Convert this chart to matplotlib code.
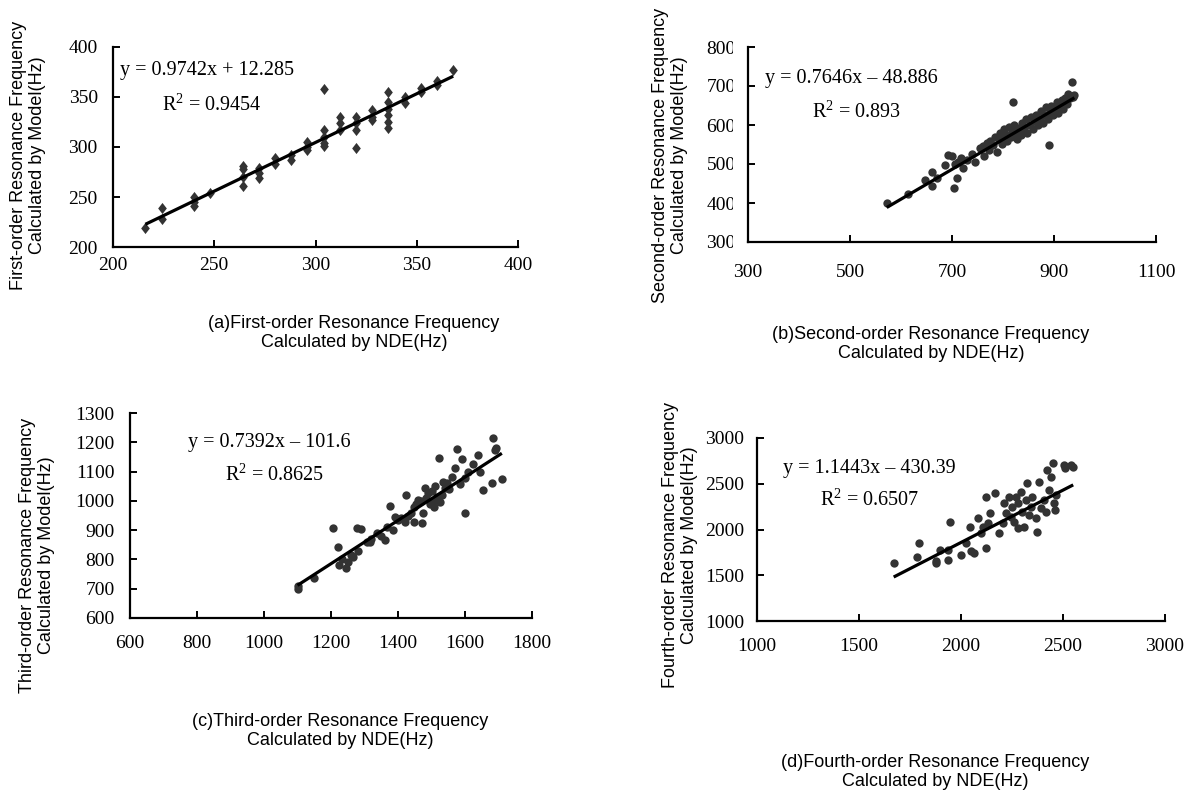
import matplotlib
matplotlib.use('Agg')
import matplotlib.pyplot as plt
from matplotlib.transforms import Bbox, TransformedBbox

plt.rcParams['font.family'] = ['Liberation Serif', 'DejaVu Serif']
plt.rcParams['mathtext.fontset'] = 'custom'
plt.rcParams['mathtext.rm'] = 'Liberation Serif'

# ---------- data ----------
# (a) first order
a_x = [216, 224, 224, 240, 240, 240, 248, 264, 264, 264, 264, 272, 272, 272, 280, 280, 288, 288,
       296, 296, 296, 304, 304, 304, 304, 304, 312, 312, 312, 320, 320, 320, 320, 328, 328, 328,
       336, 336, 336, 336, 336, 336, 344, 344, 352, 352, 360, 360, 368]
a_y = [219, 239, 228, 250, 245, 241, 254, 281, 278, 270, 261, 279, 274, 269, 289, 283, 292, 287,
       305, 300, 297, 358, 317, 310, 304, 301, 330, 324, 317, 330, 324, 317, 299, 337, 330, 327,
       355, 345, 338, 332, 325, 319, 350, 344, 359, 355, 362, 366, 377]
a_fit = (0.9742, 12.285)

# (b) second order
b_x = [572, 614, 647, 660, 660, 670, 686, 693, 703, 709, 712, 700, 705, 718, 722, 730, 740, 745,
       755, 760, 762, 768, 772, 775, 780, 785, 788, 792, 795, 798, 802, 805, 808, 812, 815, 818,
       820, 822, 825, 828, 832, 835, 838, 842, 845, 848, 852, 855, 858, 862, 865, 868, 872, 875,
       878, 882, 885, 888, 890, 892, 895, 898, 902, 905, 908, 912, 915, 918, 922, 925, 928, 932,
       935, 938, 940]
b_y = [401, 423, 459, 480, 444, 463, 497, 523, 438, 463, 505, 520, 500, 515, 490, 510, 525, 505,
       540, 545, 520, 555, 535, 560, 548, 570, 530, 565, 580, 552, 590, 575, 560, 595, 570, 585,
       660, 600, 580, 565, 592, 575, 605, 590, 615, 580, 600, 620, 590, 610, 625, 600, 615, 635,
       605, 625, 645, 615, 550, 632, 650, 625, 640, 660, 630, 648, 665, 640, 670, 655, 680, 668,
       710, 672, 678]
b_fit = (0.7646, -48.886)

# (c) third order
c_x = [1100, 1102, 1150, 1207, 1220, 1224, 1232, 1245, 1250, 1260, 1267, 1278, 1280, 1291, 1306,
       1316, 1320, 1336, 1350, 1361, 1366, 1376, 1386, 1391, 1400, 1410, 1421, 1424, 1430, 1440,
       1448, 1448, 1455, 1461, 1470, 1473, 1476, 1481, 1485, 1491, 1496, 1500, 1505, 1506, 1510,
       1516, 1521, 1525, 1530, 1534, 1540, 1545, 1553, 1560, 1570, 1575, 1585, 1592, 1600, 1600,
       1610, 1625, 1640, 1645, 1653, 1680, 1685, 1690, 1692, 1710]
c_y = [700, 708, 737, 908, 843, 782, 800, 770, 790, 815, 809, 908, 830, 903, 861,
       861, 870, 889, 880, 866, 912, 982, 900, 946, 935, 940, 929, 1020, 950, 960,
       929, 980, 990, 1003, 1000, 923, 957, 1043, 1010, 1026, 990, 1035, 1000, 980, 1050,
       1014, 1148, 997, 1020, 1066, 1043, 1060, 1039, 1082, 1111, 1176, 1057, 1142, 1077, 960,
       1097, 1125, 1156, 1097, 1037, 1062, 1213, 1172, 1180, 1074]
c_fit = (0.7392, -101.6)

# (d) fourth order
d_x = [1670, 1783, 1795, 1875, 1879, 1897, 1934, 1934, 1948, 2002, 2026, 2042, 2050, 2066, 2083,
       2099, 2107, 2123, 2123, 2131, 2144, 2168, 2188, 2205, 2212, 2220, 2236, 2244, 2252, 2260,
       2268, 2277, 2280, 2293, 2301, 2309, 2317, 2325, 2333, 2341, 2350, 2366, 2374, 2382, 2390,
       2406, 2415, 2422, 2431, 2443, 2451, 2455, 2463, 2468, 2503, 2512, 2540, 2550]
d_y = [1630, 1696, 1849, 1630, 1652, 1776, 1667, 1776, 2085, 1721, 1849, 2031, 1760, 1747, 2122,
       1958, 2031, 1795, 2358, 2067, 2177, 2395, 1965, 2067, 2293, 2177, 2358, 2140, 2249, 2085,
       2358, 2285, 2013, 2413, 2194, 2031, 2322, 2505, 2158, 2249, 2358, 2122, 1976, 2523, 2231,
       2322, 2194, 2650, 2431, 2577, 2723, 2285, 2212, 2376, 2705, 2668, 2700, 2680]
d_fit = (1.1443, -430.39)

# a slightly tall diamond, like the Excel marker in (a)
tall_diamond = [(0, 1), (0.78, 0), (0, -1), (-0.78, 0), (0, 1)]

panels = [
    dict(x=a_x, y=a_y, fit=a_fit, marker=tall_diamond, ms=8,
         xlim=(200, 400), xticks=[200, 250, 300, 350, 400],
         ylim=(200, 400), yticks=[200, 250, 300, 350, 400],
         ylabel='First-order Resonance Frequency\nCalculated by Model(Hz)',
         caption='(a)First-order Resonance Frequency\nCalculated by NDE(Hz)',
         eq='y = 0.9742x + 12.285', r2='0.9454'),
    dict(x=b_x, y=b_y, fit=b_fit, marker='o', ms=6,
         xlim=(300, 1100), xticks=[300, 500, 700, 900, 1100],
         ylim=(300, 800), yticks=[300, 400, 500, 600, 700, 800],
         ylabel='Second-order Resonance Frequency\nCalculated by Model(Hz)',
         caption='(b)Second-order Resonance Frequency\nCalculated by NDE(Hz)',
         eq='y = 0.7646x \u2013 48.886', r2='0.893'),
    dict(x=c_x, y=c_y, fit=c_fit, marker='o', ms=6,
         xlim=(600, 1800), xticks=[600, 800, 1000, 1200, 1400, 1600, 1800],
         ylim=(600, 1300), yticks=[600, 700, 800, 900, 1000, 1100, 1200, 1300],
         ylabel='Third-order Resonance Frequency\nCalculated by Model(Hz)',
         caption='(c)Third-order Resonance Frequency\nCalculated by NDE(Hz)',
         eq='y = 0.7392x \u2013 101.6', r2='0.8625'),
    dict(x=d_x, y=d_y, fit=d_fit, marker='o', ms=6,
         xlim=(1000, 3000), xticks=[1000, 1500, 2000, 2500, 3000],
         ylim=(1000, 3000), yticks=[1000, 1500, 2000, 2500, 3000],
         ylabel='Fourth-order Resonance Frequency\nCalculated by Model(Hz)',
         caption='(d)Fourth-order Resonance Frequency\nCalculated by NDE(Hz)',
         eq='y = 1.1443x \u2013 430.39', r2='0.6507'),
]

W, H = 1186, 792
fig = plt.figure(figsize=(W / 100, H / 100), dpi=100)

# layout in pixels: axes box (left, right, top, bottom), label pads, text spots
boxes = [(113, 518, 47, 247), (748, 1156, 47, 242), (130, 532, 413, 618), (757, 1165, 438, 621)]
xpads = [7, 16, 12, 12]
ypads = [11, 9, 11, 9]
ylab_pos = [(28, 155), (670, 155), (37, 555), (680, 545)]
cap_pos = [(354, 333), (931, 344), (340, 731), (935, 772)]
eq_pos = [(120, 70), (765, 78), (188, 442), (783, 468)]
r2_pos = [(162, 105), (812, 112), (225, 475), (820, 500)]

for i, p in enumerate(panels):
    l, r, t, b = boxes[i]
    ax = fig.add_axes([l / W, 1 - b / H, (r - l) / W, (b - t) / H])
    ax.plot(p['x'], p['y'], linestyle='none', marker=p['marker'], ms=p['ms'],
            color='#333333', markeredgewidth=0)
    k, c0 = p['fit']
    x0, x1 = min(p['x']), max(p['x'])
    ax.plot([x0, x1], [k * x0 + c0, k * x1 + c0], color='black', lw=2.3, solid_capstyle='butt')
    ax.set_xlim(p['xlim'])
    ax.set_ylim(p['ylim'])
    ax.set_xticks(p['xticks'])
    ax.set_yticks(p['yticks'])
    for s in ['top', 'right']:
        ax.spines[s].set_visible(False)
    for s in ['left', 'bottom']:
        ax.spines[s].set_linewidth(1.6)
    ax.tick_params(direction='in', length=5, width=1.4, labelsize=14)
    ax.tick_params(axis='x', pad=xpads[i])
    ax.tick_params(axis='y', pad=ypads[i])

    fig.text(ylab_pos[i][0] / W, 1 - ylab_pos[i][1] / H, p['ylabel'], rotation=90,
             ha='center', va='center', fontsize=13, family='Liberation Sans', linespacing=1.1)
    fig.text(cap_pos[i][0] / W, 1 - cap_pos[i][1] / H, p['caption'],
             ha='center', va='center', fontsize=13, family='Liberation Sans', linespacing=1.15)
    fig.text(eq_pos[i][0] / W, 1 - eq_pos[i][1] / H, p['eq'], ha='left', va='center', fontsize=14.5)
    fig.text(r2_pos[i][0] / W, 1 - r2_pos[i][1] / H, 'R$^{2}$ = ' + p['r2'],
             ha='left', va='center', fontsize=14.5)

    if i == 1:
        # the y tick labels of (b) are cut off on their right side
        clip = TransformedBbox(Bbox([[0, 0], [733 / W, 1]]), fig.transFigure)
        for lab in ax.get_yticklabels():
            lab.set_clip_on(True)
            lab.set_clip_box(clip)

fig.savefig('out.png', dpi=100)
